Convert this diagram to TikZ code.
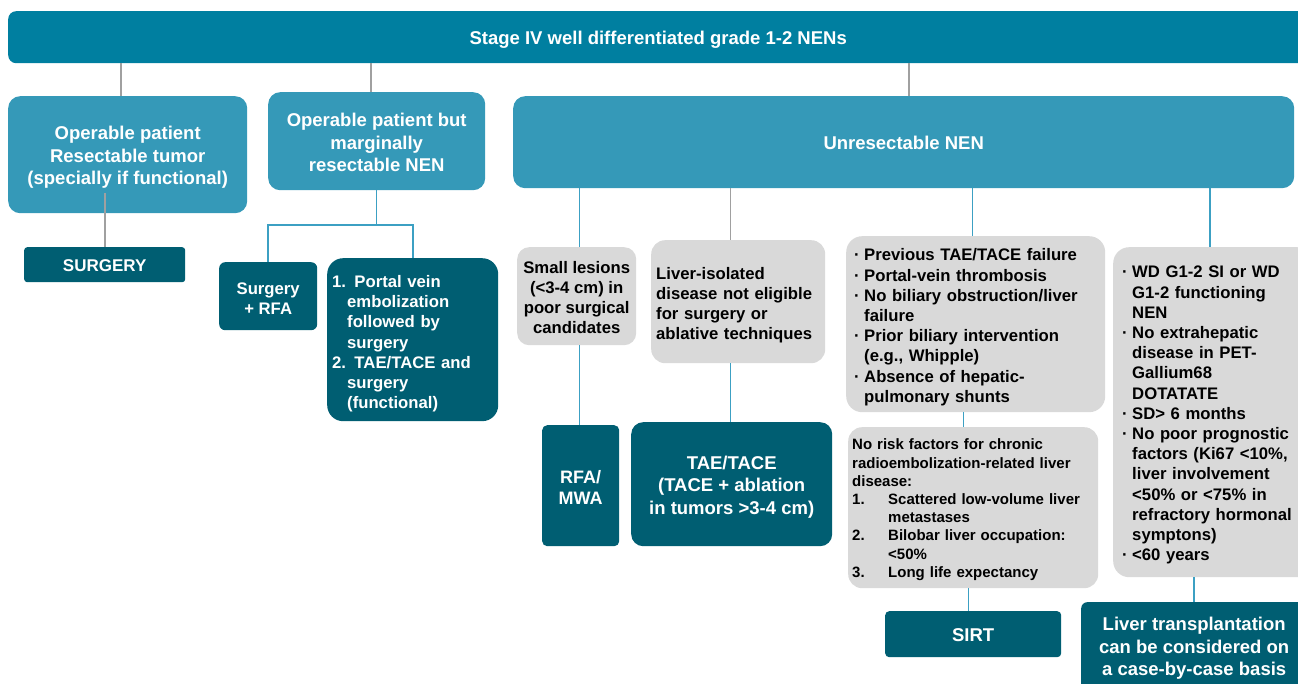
\documentclass[tikz,border=0pt]{standalone}
\usepackage{fontspec}
\setmainfont{Liberation Sans}
\usetikzlibrary{calc}
\definecolor{hdrc}{RGB}{0,127,160}
\definecolor{midc}{RGB}{53,153,184}
\definecolor{darkc}{RGB}{0,94,114}
\definecolor{grayc}{RGB}{217,217,217}
\definecolor{lineg}{RGB}{160,160,160}
\definecolor{lineb}{RGB}{60,160,195}
\newcommand\bulx{\makebox[10pt][l]{·}}
\newcommand\indx{\hspace*{10pt}}
\newcommand\numx[1]{\makebox[36pt][l]{#1}}
\newcommand\hgx{\hspace*{36pt}}
\newcommand\pvx{\hspace*{15pt}}
\begin{document}
\begin{tikzpicture}[x=1pt,y=-1pt,
  box/.style={anchor=north west, inner sep=0pt},
  hdrbox/.style={box, fill=hdrc, rounded corners=8pt},
  midbox/.style={box, fill=midc, rounded corners=12pt},
  darkbox/.style={box, fill=darkc},
  graybox/.style={box, fill=grayc},
  txt/.style={inner sep=0pt, align=center, yshift=-#1},
  txt/.default=2.5pt,
  wtxt/.style={txt=#1, text=white},
  wtxt/.default=2.5pt,
  ktxt/.style={txt=#1, text=black},
  ktxt/.default=2.5pt,
  fbig/.style={font=\bfseries\fontsize{18.5}{22.5}\selectfont},
  fmid/.style={font=\bfseries\fontsize{16.7}{20.2}\selectfont},
  fsmall/.style={font=\bfseries\fontsize{15}{18.2}\selectfont},
  gline/.style={draw=lineg, line width=1.2pt},
  bline/.style={draw=lineb, line width=1.2pt}]
\useasboundingbox (0,0) rectangle (1298,684);

% top level
\node[hdrbox, minimum width=1300pt, minimum height=52pt] (hdr) at (8,11) {};
\node[wtxt=3pt, fbig] (hdr-t) at (hdr.center) {Stage IV well differentiated grade 1-2 NENs};

% first tier
\node[midbox, minimum width=239pt, minimum height=117pt] (op) at (8,96) {};
\node[wtxt=3pt, fbig] (op-t) at (op.center) {Operable patient\\Resectable tumor\\(specially if functional)};
\node[midbox, minimum width=217pt, minimum height=98pt] (marg) at (268,92) {};
\node[wtxt=1.5pt, fbig] (marg-t) at (marg.center) {Operable patient but\\marginally\\resectable NEN};
\node[midbox, minimum width=781pt, minimum height=92pt] (unres) at (513,96) {};
\node[wtxt=1pt, fbig] (unres-t) at (unres.center) {Unresectable NEN};

% resectable branch
\node[darkbox, rounded corners=3pt, minimum width=161pt, minimum height=35pt] (surg) at (24,247) {};
\node[wtxt=1pt, font=\bfseries\fontsize{17}{20}\selectfont] (surg-t) at (surg.center) {SURGERY};

% marginally resectable branch
\node[darkbox, rounded corners=6pt, minimum width=98pt, minimum height=68pt] (srfa) at (219,262) {};
\node[wtxt=2.5pt, fmid] (srfa-t) at (srfa.center) {Surgery\\+ RFA};
\node[darkbox, rounded corners=16pt, minimum width=171pt, minimum height=163pt] (pve) at (327,258) {};
\node[wtxt=4pt, fmid, align=left, text width=161pt] (pve-t) at (pve.center)
  {1. Portal vein\\\pvx embolization\\\pvx followed by\\\pvx surgery\\2. TAE/TACE and\\\pvx surgery\\\pvx (functional)};

% unresectable branch: criteria
\node[graybox, rounded corners=12pt, minimum width=119pt, minimum height=98pt] (small) at (517,247) {};
\node[ktxt=1.5pt, fmid] (small-t) at (small.center) {Small lesions\\(<3-4 cm) in\\poor surgical\\candidates};
\node[graybox, rounded corners=14pt, minimum width=174pt, minimum height=123pt] (liver) at (651,240) {};
\node[ktxt=3.5pt, fmid, align=left, text width=164pt] (liver-t) at (liver.center)
  {Liver-isolated\\disease not eligible\\for surgery or\\ablative techniques};
\node[graybox, rounded corners=16pt, minimum width=259pt, minimum height=176pt] (sirta) at (846,236) {};
\node[ktxt=3pt, fmid, align=left, text width=243pt] (sirta-t) at (sirta.center)
  {\bulx Previous TAE/TACE failure\\\bulx Portal-vein thrombosis\\\bulx No biliary obstruction/liver\\\indx failure\\\bulx Prior biliary intervention\\\indx (e.g., Whipple)\\\bulx Absence of hepatic-\\\indx pulmonary shunts};
\node[graybox, rounded corners=14pt, minimum width=250pt, minimum height=161pt] (sirtb) at (848,427) {};
\node[ktxt=2pt, fsmall, align=left, text width=242pt] (sirtb-t) at (sirtb.center)
  {No risk factors for chronic\\radioembolization-related liver\\disease:\\\numx{1.}Scattered low-volume liver\\\hgx metastases\\\numx{2.}Bilobar liver occupation:\\\hgx <50\%\\\numx{3.}Long life expectancy};
\node[graybox, rounded corners=16pt, minimum width=200pt, minimum height=330pt] (wd) at (1113,247) {};
\node[ktxt=3pt, fmid, align=left, text width=182pt] (wd-t) at (wd.center)
  {\bulx WD G1-2 SI or WD\\\indx G1-2 functioning\\\indx NEN\\\bulx No extrahepatic\\\indx disease in PET-\\\indx Gallium68\\\indx DOTATATE\\\bulx SD> 6 months\\\bulx No poor prognostic\\\indx factors (Ki67 <10\%,\\\indx liver involvement\\\indx <50\% or <75\% in\\\indx refractory hormonal\\\indx symptons)\\\bulx <60 years};

% unresectable branch: treatments
\node[darkbox, rounded corners=5pt, minimum width=77pt, minimum height=121pt] (rfa) at (542,425) {};
\node[wtxt=1.5pt, font=\bfseries\fontsize{18}{21}\selectfont] (rfa-t) at (rfa.center) {RFA/\\MWA};
\node[darkbox, rounded corners=12pt, minimum width=201pt, minimum height=124pt] (tace) at (631,422) {};
\node[wtxt=3pt, fbig] (tace-t) at (tace.center) {TAE/TACE\\(TACE + ablation\\in tumors >3-4 cm)};
\node[darkbox, rounded corners=4pt, minimum width=176pt, minimum height=46pt] (sirt) at (885,611) {};
\node[wtxt=1pt, fbig] (sirt-t) at (sirt.center) {SIRT};
\node[darkbox, rounded corners=6pt, minimum width=226pt, minimum height=88pt] (lt) at (1081,602) {};
\node[wtxt=2.5pt, fbig] (lt-t) at (lt.center) {Liver transplantation\\can be considered on\\a case-by-case basis};

% connector columns
\coordinate (xa) at (121,0);
\coordinate (xb) at (105,0);
\coordinate (xc) at (371,0);
\coordinate (xd) at (909,0);
\coordinate (xe) at (579.5,0);
\coordinate (xf) at (730.5,0);
\coordinate (xg) at (972.5,0);
\coordinate (xh) at (1210,0);
\coordinate (xi) at (963.5,0);
\coordinate (xj) at (968.5,0);
\coordinate (xk) at (1194,0);
\coordinate (jl) at (268,225);
\coordinate (jr) at (413,225);

% connectors
\draw[gline] (hdr.south -| xa) -- (op.north -| xa);
\draw[gline] (hdr.south -| xc) -- (marg.north -| xc);
\draw[gline] (hdr.south -| xd) -- (unres.north -| xd);
\draw[gline] ($(op.south -| xb)+(0,-20)$) -- (surg.north -| xb);
\draw[bline] (marg.south) -- (marg.south |- jl);
\draw[bline] (srfa.north -| jl) -- (jl) -- (jr) -- (pve.north -| jr);
\draw[bline] (unres.south -| xe) -- (small.north -| xe);
\draw[gline] (unres.south -| xf) -- (liver.north -| xf);
\draw[bline] (unres.south -| xg) -- (sirta.north -| xg);
\draw[bline] (unres.south -| xh) -- (wd.north -| xh);
\draw[bline] (small.south -| xe) -- (rfa.north -| xe);
\draw[bline] (liver.south -| xf) -- (tace.north -| xf);
\draw[bline] (sirta.south -| xi) -- (sirtb.north -| xi);
\draw[bline] (sirtb.south -| xj) -- (sirt.north -| xj);
\draw[bline] (wd.south -| xk) -- (lt.north -| xk);
\end{tikzpicture}
\end{document}
